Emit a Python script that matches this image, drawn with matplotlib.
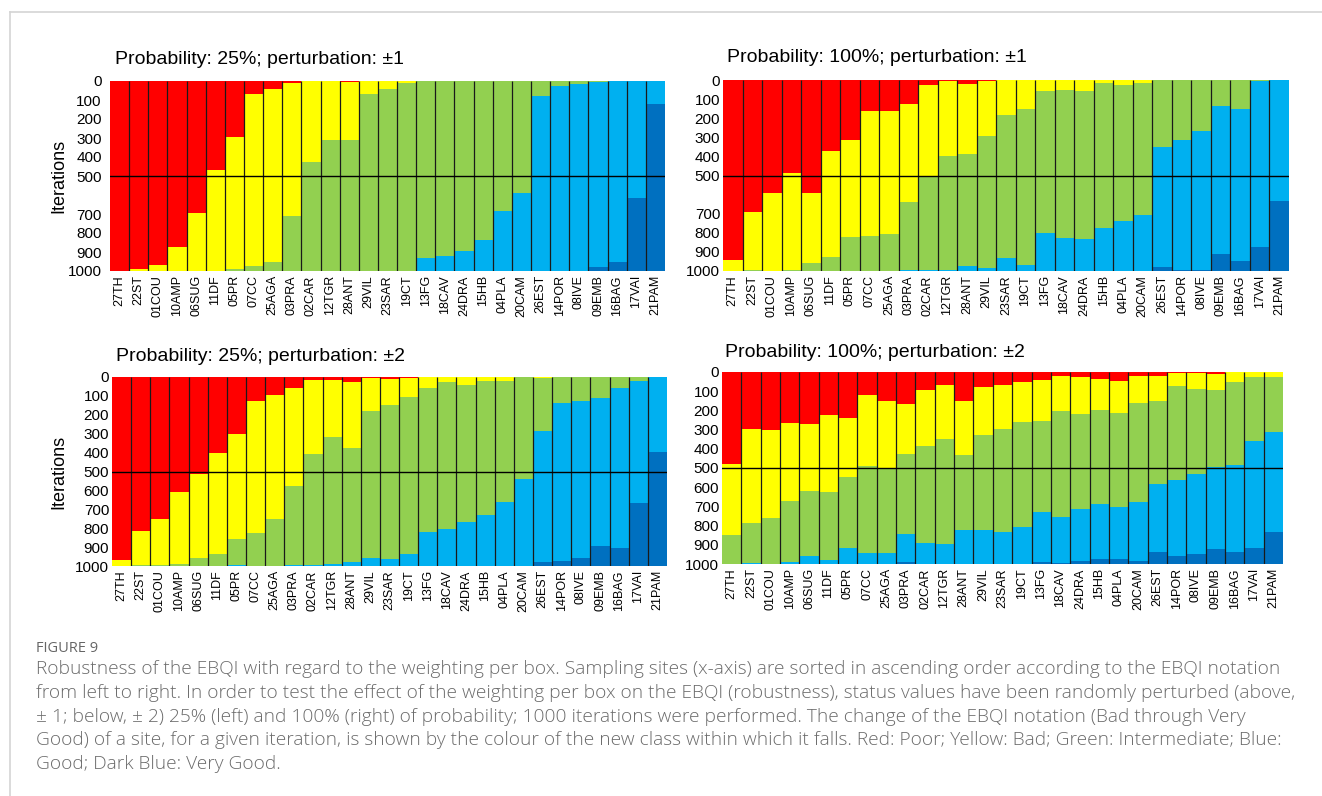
import matplotlib
matplotlib.use("Agg")
import matplotlib.pyplot as plt
import numpy as np
from matplotlib.lines import Line2D

plt.rcParams['font.family'] = ['Liberation Sans', 'DejaVu Sans']

sites = ["27TH", "22ST", "01COU", "10AMP", "06SUG", "11DF", "05PR", "07CC", "25AGA",
         "03PRA", "02CAR", "12TGR", "28ANT", "29VIL", "23SAR", "19CT", "13FG", "18CAV",
         "24DRA", "15HB", "04PLA", "20CAM", "26EST", "14POR", "08IVE", "09EMB", "16BAG",
         "17VAI", "21PAM"]

class_names = ["Poor", "Bad", "Intermediate", "Good", "Very Good"]
class_colors = ["#FF0000", "#FFFF00", "#92D050", "#00B0F0", "#0070C0"]

# Probability 25%, perturbation +-1  (iterations per class)
p25_pm1_poor = [1000, 989, 968, 872, 695, 468, 295, 67, 42, 10, 0, 0, 3, 0, 0, 0, 0, 0, 0, 0, 0, 0, 0, 0, 0, 0, 0, 0, 0]
p25_pm1_bad = [0, 11, 32, 128, 303, 532, 694, 905, 909, 699, 426, 309, 306, 70, 42, 9, 0, 0, 0, 0, 0, 0, 2, 0, 0, 0, 0, 0, 0]
p25_pm1_inter = [0, 0, 0, 0, 2, 0, 11, 28, 49, 291, 574, 691, 689, 930, 958, 991, 930, 921, 895, 837, 682, 589, 75, 25, 14, 7, 0, 0, 0]
p25_pm1_good = [0, 0, 0, 0, 0, 0, 0, 0, 0, 0, 0, 0, 2, 0, 0, 0, 70, 79, 105, 163, 318, 411, 923, 975, 986, 970, 953, 616, 123]
p25_pm1_vgood = [0, 0, 0, 0, 0, 0, 0, 0, 0, 0, 0, 0, 0, 0, 0, 0, 0, 0, 0, 0, 0, 0, 0, 0, 0, 23, 47, 384, 877]

# Probability 100%, perturbation +-1
p100_pm1_poor = [944, 690, 594, 486, 591, 371, 315, 161, 164, 124, 26, 3, 23, 3, 0, 0, 0, 0, 0, 0, 0, 0, 0, 0, 0, 0, 0, 0, 0]
p100_pm1_bad = [56, 307, 406, 507, 365, 557, 505, 654, 640, 516, 481, 397, 362, 289, 184, 154, 56, 51, 59, 17, 26, 16, 0, 0, 0, 0, 0, 0, 0]
p100_pm1_inter = [0, 3, 0, 7, 44, 72, 180, 185, 196, 357, 490, 597, 591, 694, 748, 816, 746, 776, 771, 758, 712, 692, 353, 313, 269, 135, 150, 3, 0]
p100_pm1_good = [0, 0, 0, 0, 0, 0, 0, 0, 0, 3, 3, 3, 24, 14, 68, 30, 198, 173, 170, 225, 262, 292, 626, 684, 724, 778, 796, 871, 631]
p100_pm1_vgood = [0, 0, 0, 0, 0, 0, 0, 0, 0, 0, 0, 0, 0, 0, 0, 0, 0, 0, 0, 0, 0, 0, 21, 3, 7, 87, 54, 126, 369]

# Probability 25%, perturbation +-2
p25_pm2_poor = [966, 813, 753, 608, 513, 402, 302, 127, 97, 58, 14, 14, 25, 7, 9, 4, 0, 0, 0, 0, 0, 0, 0, 0, 0, 0, 0, 0, 0]
p25_pm2_bad = [34, 183, 243, 380, 446, 533, 557, 700, 656, 519, 392, 305, 351, 173, 141, 102, 56, 28, 41, 19, 21, 0, 5, 0, 0, 0, 0, 0, 0]
p25_pm2_inter = [0, 4, 4, 12, 41, 65, 137, 173, 247, 419, 590, 669, 603, 776, 811, 832, 764, 778, 728, 711, 640, 541, 282, 138, 127, 109, 60, 19, 0]
p25_pm2_good = [0, 0, 0, 0, 0, 0, 4, 0, 0, 4, 4, 12, 21, 44, 39, 62, 180, 194, 231, 270, 339, 459, 692, 836, 829, 787, 843, 646, 395]
p25_pm2_vgood = [0, 0, 0, 0, 0, 0, 0, 0, 0, 0, 0, 0, 0, 0, 0, 0, 0, 0, 0, 0, 0, 0, 21, 26, 44, 104, 97, 335, 605]

# Probability 100%, perturbation +-2
p100_pm2_poor = [479, 297, 304, 266, 273, 226, 240, 122, 153, 165, 92, 66, 149, 76, 66, 52, 43, 23, 28, 35, 49, 19, 23, 3, 5, 10, 0, 0, 0]
p100_pm2_bad = [368, 488, 455, 406, 345, 399, 309, 368, 347, 260, 295, 283, 282, 250, 229, 208, 214, 182, 189, 161, 166, 144, 130, 72, 82, 82, 52, 24, 24]
p100_pm2_inter = [153, 210, 241, 319, 339, 352, 369, 454, 443, 420, 505, 547, 394, 495, 537, 547, 474, 552, 497, 493, 488, 514, 432, 488, 443, 401, 434, 337, 287]
p100_pm2_good = [0, 5, 0, 9, 43, 23, 82, 56, 57, 146, 108, 104, 175, 179, 168, 193, 257, 236, 269, 287, 273, 306, 351, 395, 416, 427, 453, 557, 521]
p100_pm2_vgood = [0, 0, 0, 0, 0, 0, 0, 0, 0, 9, 0, 0, 0, 0, 0, 0, 12, 7, 17, 24, 24, 17, 64, 42, 54, 80, 61, 82, 168]

ticks_top = [0, 100, 200, 300, 400, 500, 700, 800, 900, 1000]
ticks_bottom = [0, 100, 200, 300, 400, 500, 600, 700, 800, 900, 1000]

titles = ["Probability: 25%; perturbation: \u00b11",
          "Probability: 100%; perturbation: \u00b11",
          "Probability: 25%; perturbation: \u00b12",
          "Probability: 100%; perturbation: \u00b12"]

caption_lines = [
    "Robustness of the EBQI with regard to the weighting per box. Sampling sites (x-axis) are sorted in ascending order according to the EBQI notation",
    "from left to right. In order to test the effect of the weighting per box on the EBQI (robustness), status values have been randomly perturbed (above,",
    "\u00b1 1; below, \u00b1 2) 25% (left) and 100% (right) of probability; 1000 iterations were performed. The change of the EBQI notation (Bad through Very",
    "Good) of a site, for a given iteration, is shown by the colour of the new class within which it falls. Red: Poor; Yellow: Bad; Green: Intermediate; Blue:",
    "Good; Dark Blue: Very Good.",
]

W, H = 1322, 796
fig = plt.figure(figsize=(W / 100, H / 100), dpi=100)

def px_axes(x0, y0, x1, y1):
    return fig.add_axes([x0 / W, 1 - y1 / H, (x1 - x0) / W, (y1 - y0) / H])

panels = [
    dict(box=(110, 81, 665, 271), data=[p25_pm1_poor, p25_pm1_bad, p25_pm1_inter, p25_pm1_good, p25_pm1_vgood],
         ticks=ticks_top, title=titles[0], tpos=(115, 64), ylab=True, ypad=6, lpad=0),
    dict(box=(723, 80, 1289, 271), data=[p100_pm1_poor, p100_pm1_bad, p100_pm1_inter, p100_pm1_good, p100_pm1_vgood],
         ticks=ticks_top, title=titles[1], tpos=(727, 62), ylab=False, ypad=2, lpad=0),
    dict(box=(112, 377, 667, 566), data=[p25_pm2_poor, p25_pm2_bad, p25_pm2_inter, p25_pm2_good, p25_pm2_vgood],
         ticks=ticks_bottom, title=titles[2], tpos=(116, 361), ylab=True, ypad=2, lpad=6),
    dict(box=(722, 372, 1283, 564), data=[p100_pm2_poor, p100_pm2_bad, p100_pm2_inter, p100_pm2_good, p100_pm2_vgood],
         ticks=ticks_bottom, title=titles[3], tpos=(725, 357), ylab=False, ypad=2, lpad=0),
]

x = np.arange(len(sites))
for p in panels:
    ax = px_axes(*p["box"])
    bottom = np.zeros(len(sites))
    for vals, col, name in zip(p["data"], class_colors, class_names):
        vals = np.asarray(vals, dtype=float)
        ax.bar(x, vals, width=1.0, bottom=bottom, color=col, edgecolor="none", linewidth=0, label=name)
        bottom += vals
    ax.vlines(x[1:] - 0.5, 0, 1000, colors="#1a1a1a", linewidth=0.9)
    ax.axhline(500, color="#000000", linewidth=1.0)
    ax.set_xlim(-0.5, len(sites) - 0.5)
    ax.set_ylim(1000, 0)
    ax.set_yticks(p["ticks"])
    ax.set_yticklabels([str(t) for t in p["ticks"]], fontsize=11)
    ax.set_xticks(x)
    ax.set_xticklabels(sites, rotation=90, fontsize=9)
    ax.tick_params(axis="both", length=0)
    ax.tick_params(axis="y", pad=p["ypad"])
    ax.tick_params(axis="x", pad=3)
    for s in ax.spines.values():
        s.set_visible(False)
    if p["ylab"]:
        ax.set_ylabel("Iterations", fontsize=13, labelpad=p["lpad"])
    fig.text(p["tpos"][0] / W, 1 - p["tpos"][1] / H, p["title"], fontsize=14,
             ha="left", va="baseline", color="#000000")

# frame
fig.add_artist(Line2D([10 / W, 10 / W], [0, 1 - 12 / H], color="#d4d4d4", linewidth=1.2, transform=fig.transFigure))
fig.add_artist(Line2D([10 / W, 1], [1 - 12 / H, 1 - 12 / H], color="#d4d4d4", linewidth=1.2, transform=fig.transFigure))

cap_font = ["Open Sans", "DejaVu Sans"]
fig.text(36 / W, 1 - 648 / H, "FIGURE 9", fontsize=10.5, family=cap_font, color="#666666",
         ha="left", va="center")
for i, line in enumerate(caption_lines):
    fig.text(36 / W, 1 - (669 + i * 23.8) / H, line, fontsize=13.8, family=cap_font,
             fontweight="light", color="#6b6b6b", ha="left", va="center")

fig.savefig("out.png", dpi=100)
